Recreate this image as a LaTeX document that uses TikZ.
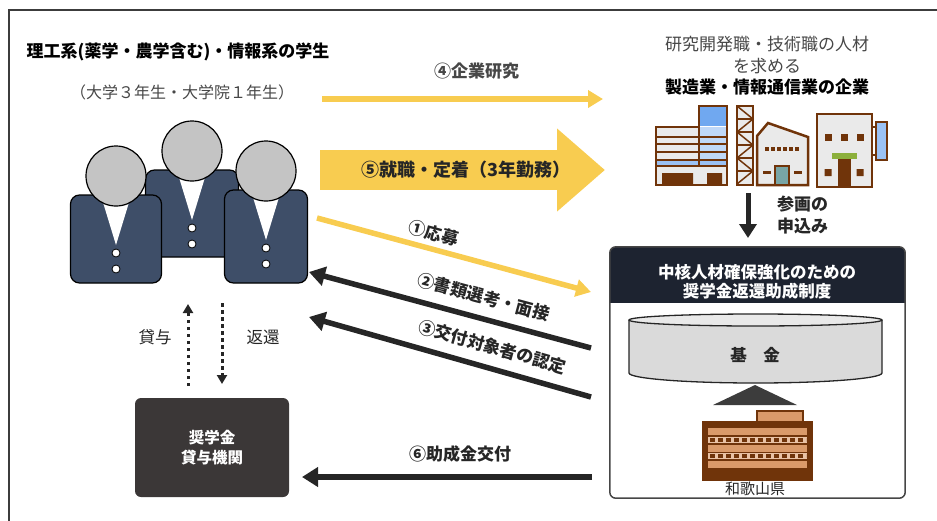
\documentclass[tikz,border=0pt]{standalone}
\usepackage{fontspec}
\setmainfont{Noto Sans CJK JP}
\usepackage{tikz}
\usetikzlibrary{arrows.meta}

\definecolor{suit}{RGB}{62,78,104}
\definecolor{headgray}{RGB}{196,196,196}
\definecolor{gold}{RGB}{248,204,80}
\definecolor{ink}{RGB}{38,38,38}
\definecolor{navy}{RGB}{29,35,48}
\definecolor{boxdark}{RGB}{59,55,55}
\definecolor{brick}{RGB}{112,52,10}
\definecolor{tan}{RGB}{218,154,106}
\definecolor{sky}{RGB}{112,168,240}
\definecolor{wall}{RGB}{234,234,234}
\definecolor{fund}{RGB}{218,218,218}
\definecolor{doorteal}{RGB}{120,165,165}
\definecolor{leaf}{RGB}{140,176,60}

\begin{document}
\begin{tikzpicture}[x=1pt, y=-1pt,
    yline/.style={draw=gold, line width=5.5pt, -{Triangle[length=15pt,width=17pt]}},
    kline/.style={draw=ink, line width=5.5pt, -{Triangle[length=16pt,width=19pt]}},
    fatline/.style={draw=gold, line width=40pt, -{Triangle[length=48pt,width=80pt]}},
    dotline/.style={draw=ink, line width=3pt, dash pattern=on 3.5pt off 3.5pt,
        -{Triangle[length=9pt,width=10pt]}},
    lbl/.style={font=\bfseries\fontsize{17}{20}\selectfont, text=ink, inner sep=1pt},
    wallline/.style={draw=brick, line width=2.5pt},
  ]
  \useasboundingbox (0,0) rectangle (937,520);
  \draw[line width=2pt, ink!90] (9,540) -- (9,9.5) -- (960,9.5);

  % 学生: 身体, V领, 纽扣, 头
  \def\student#1#2#3#4{%
    \filldraw[fill=suit, draw=black, line width=1.2pt, rounded corners=9pt]
      (#1-#3/2,#2) rectangle (#1+#3/2,#2+#4);
    \fill[white] (#1-15,#2+0.8) -- (#1+15,#2+0.8) -- (#1,#2+50) -- cycle;
    \filldraw[fill=white, draw=black, line width=0.8pt]
      (#1,#2+58) circle (4) (#1,#2+74) circle (4);
    \filldraw[fill=headgray, draw=black, line width=1.2pt] (#1,#2-19) circle (30);
  }
  \student{192}{170}{93}{87}
  \student{116}{195}{91}{88}
  \student{266}{190}{83}{93}

  \node[font=\bfseries\fontsize{17}{20}\selectfont, text=black] (who) at (178,52)
    {理工系(薬学・農学含む)・情報系の学生};
  \node[font=\fontsize{16}{19}\selectfont, text=ink!85] (grade) at (182,92)
    {（大学３年生・大学院１年生）};

  % 企业
  \node[align=center, font=\fontsize{17}{21.5}\selectfont, text=ink!85] (firms) at (767,66)
    {研究開発職・技術職の人材\\を求める\\{\bfseries\color{black}製造業・情報通信業の企業}};

  % 办公楼
  \fill[wall] (656,127) rectangle (727,185);
  \fill[sky] (699,106) rectangle (727,126);
  \fill[sky!45] (699,127) rectangle (727,160);
  \fill[sky!70] (656,160) rectangle (727,166);
  \foreach \y in {137,144,152,160,166}
    \draw[brick, line width=1.5pt] (656,\y) -- (727,\y);
  \draw[brick, line width=1.5pt] (699,127) -- (699,166);
  \fill[brick] (662,173) rectangle (693,185) (707,173) rectangle (722,185);
  \draw[wallline] (656,185) -- (656,127) -- (699,127) -- (699,106) -- (727,106) -- (727,185) -- cycle;
  % 铁塔
  \filldraw[fill=wall, wallline] (737,106) rectangle (753,185);
  \draw[brick, line width=1.5pt] (737,106) -- (753,119) -- (737,132) -- (753,145)
    -- (737,158) -- (753,171) -- (737,184);
  \foreach \y in {119,132,145,158,171}
    \draw[brick, line width=1.5pt] (737,\y) -- (753,\y);
  % 工厂
  \filldraw[fill=wall, wallline] (757,185) -- (757,136) -- (768,123) -- (808,137) -- (808,185) -- cycle;
  \draw[brick, line width=4pt, dash pattern=on 3.5pt off 2.5pt] (765,149) -- (801,149);
  \draw[brick, line width=3pt] (763,172) -- (771,172) (794,172) -- (802,172);
  \filldraw[fill=doorteal, draw=brick, line width=1.5pt] (775,166) rectangle (789,185);
  % 商店
  \filldraw[fill=wall, wallline] (817,114) rectangle (872,187);
  \draw[brick, line width=2pt] (872,127) -- (876,127) (872,155) -- (876,155);
  \filldraw[fill=sky!70, wallline] (876,122) rectangle (887,160);
  \foreach \x in {828,844,860}
    \fill[brick] (\x-3.5,134) rectangle (\x+3.5,141);
  \fill[leaf] (832,153) rectangle (857,159);
  \fill[brick] (838,159) rectangle (851,187);
  \fill[brick] (824.5,169) rectangle (831.5,176) (856.5,169) rectangle (863.5,176);

  % 参画
  \coordinate (join-from) at (748,193);
  \coordinate (join-to) at (748,238);
  \draw[draw=ink, line width=5pt, -{Triangle[length=14pt,width=17pt]}] (join-from) -- (join-to);
  \node[lbl, anchor=west, align=left, font=\bfseries\fontsize{17}{22}\selectfont] (join) at (776,215)
    {参画の\\申込み};

  % 助成制度
  \node[minimum width=295, minimum height=251, inner sep=0] (system) at (757.5,372.5) {};
  \begin{scope}
    \clip[rounded corners=6pt] (system.north west) rectangle (system.south east);
    \fill[navy] (system.north west) rectangle ([yshift=-56pt]system.north east);
  \end{scope}
  \draw[gray!55!black, line width=1.5pt, rounded corners=6pt]
    (system.north west) rectangle (system.south east);
  \node[text=white, align=center, font=\bfseries\fontsize{16.5}{19.5}\selectfont] (scheme) at (757,282)
    {中核人材確保強化のための\\奨学金返還助成制度};

  % 基金
  \filldraw[fill=fund, draw=ink, line width=1.3pt] (629,320) -- (629,373)
    arc[start angle=180, end angle=0, x radius=126.5, y radius=10] -- (882,320);
  \filldraw[fill=fund!60!white, draw=ink, line width=1.3pt] (755.5,320) ellipse[x radius=126.5, y radius=6];
  \node[lbl, font=\bfseries\fontsize{16.5}{19}\selectfont] (fund) at (755,355) {基　金};
  \fill[ink!90] (713,405) -- (755,385) -- (797,405) -- cycle;

  % 县厅
  \filldraw[fill=tan, wallline] (757,411) rectangle (803,422);
  \filldraw[fill=brick, wallline] (703,422) rectangle (812,480);
  \foreach \y in {428,445,461}
    \fill[tan] (708,\y) rectangle (807,\y+7);
  \foreach \y in {436.5,453} {
    \fill[tan!60] (708,\y) rectangle (807,\y+6);
    \draw[brick, line width=4pt, dash pattern=on 5pt off 3pt] (710,\y+3) -- (806,\y+3);
  }
  \node[font=\fontsize{15}{18}\selectfont, text=ink, inner sep=1pt] (pref) at (755,489) {和歌山県};

  % 奖学金机构
  \node[fill=boxdark, rounded corners=6pt, minimum width=154, minimum height=99, text=white,
    align=center, font=\bfseries\fontsize{15.5}{20}\selectfont] (loan) at (212,447.5) {奨学金\\貸与機関};
  \coordinate (lend-from) at (188,386);
  \coordinate (lend-to) at (188,304);
  \coordinate (repay-from) at (222,303);
  \coordinate (repay-to) at (222,384);
  \draw[dotline] (lend-from) -- (lend-to);
  \draw[dotline] (repay-from) -- (repay-to);
  \node[font=\fontsize{16.5}{19}\selectfont, text=ink] (lend) at (155,337) {貸与};
  \node[font=\fontsize{16.5}{19}\selectfont, text=ink] (repay) at (263,337) {返還};

  % 流程箭头 ①-⑥
  \coordinate (study-from) at (322,99);
  \coordinate (study-to) at (603,99);
  \coordinate (settle-from) at (320,170);
  \coordinate (settle-to) at (605,170);
  \coordinate (apply-from) at (317,218);
  \coordinate (apply-to) at (591,292);
  \coordinate (screen-from) at (591,348);
  \coordinate (screen-to) at (309,272);
  \coordinate (cert-from) at (591,397);
  \coordinate (cert-to) at (309,317);
  \coordinate (grant-from) at (592,477);
  \coordinate (grant-to) at (302,477);

  \draw[yline] (study-from) -- (study-to)
    node[lbl, pos=0.55, above=16pt, text=ink!85] (study) {④企業研究};
  \draw[fatline] (settle-from) -- (settle-to);
  \node[lbl, font=\bfseries\fontsize{18}{21}\selectfont] (settle) at (466,170) {⑤就職・定着（3年勤務）};
  \draw[yline] (apply-from) -- (apply-to)
    node[lbl, pos=0.41, sloped, above=4pt] (apply) {①応募};
  \draw[kline] (screen-from) -- (screen-to)
    node[lbl, pos=0.40, sloped, above=9.5pt] (screen) {②書類選考・面接};
  \draw[kline] (cert-from) -- (cert-to)
    node[lbl, pos=0.37, sloped, above=9.5pt] (cert) {③交付対象者の認定};
  \draw[kline] (grant-from) -- (grant-to)
    node[lbl, pos=0.455, above=10.5pt] (grant) {⑥助成金交付};
\end{tikzpicture}
\end{document}
